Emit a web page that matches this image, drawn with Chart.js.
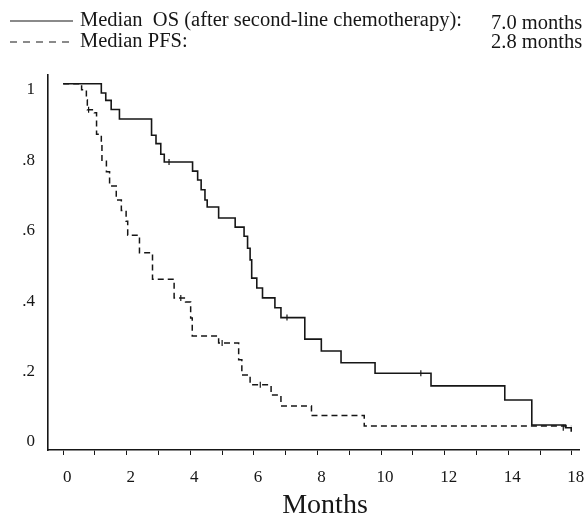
<!DOCTYPE html>
<html>
<head>
<meta charset="utf-8">
<script src="https://cdn.jsdelivr.net/npm/chart.js@4"></script>
<style>
  html, body { margin: 0; padding: 0; background: #fff; }
  #wrap { width: 585px; height: 519px; position: relative; }
</style>
</head>
<body>
<div id="wrap"><canvas id="km"></canvas></div>
<script>
// Kaplan-Meier steps: time (months) at which the curve drops, and the new value
const osTimes  = [0, 1.20, 1.34, 1.51, 1.77, 2.78, 2.92, 3.07, 3.18, 4.07, 4.23, 4.34, 4.46, 4.53, 4.89, 5.41, 5.69, 5.80, 5.88, 5.93, 6.09, 6.27, 6.66, 6.85, 7.60, 8.12, 8.74, 9.81, 11.57, 13.89, 14.74, 15.80, 15.98];
const osValues = [1.0, 0.974, 0.953, 0.927, 0.900, 0.854, 0.830, 0.800, 0.778, 0.752, 0.727, 0.699, 0.670, 0.650, 0.619, 0.593, 0.567, 0.533, 0.500, 0.448, 0.420, 0.392, 0.364, 0.336, 0.275, 0.241, 0.208, 0.178, 0.142, 0.102, 0.031, 0.023, 0.012];

const pfsTimes  = [0, 0.58, 0.73, 0.76, 0.98, 1.05, 1.20, 1.22, 1.36, 1.46, 1.67, 1.83, 1.98, 2.03, 2.35, 2.40, 2.81, 3.49, 3.85, 4.01, 4.06, 4.89, 5.52, 5.62, 5.88, 6.54, 6.85, 7.81, 9.47, 15.98];
const pfsValues = [1.0, 0.983, 0.955, 0.926, 0.918, 0.857, 0.833, 0.780, 0.750, 0.710, 0.670, 0.640, 0.610, 0.570, 0.565, 0.520, 0.445, 0.392, 0.380, 0.335, 0.284, 0.264, 0.216, 0.173, 0.145, 0.116, 0.085, 0.058, 0.028, 0.028];

// censored observations
const osCensorTimes  = [3.33, 7.04, 11.25, 15.73];
const osCensorValues = [0.778, 0.336, 0.178, 0.023];
const pfsCensorTimes  = [0.80, 3.70, 5.00, 6.20];
const pfsCensorValues = [0.926, 0.392, 0.264, 0.145];

const yTicks = [0, 0.2, 0.4, 0.6, 0.8, 1];
const yTickLabels = ['0', '.2', '.4', '.6', '.8', '1'];
const xTicks = [0, 1, 2, 3, 4, 5, 6, 7, 8, 9, 10, 11, 12, 13, 14, 15, 16];
const xLabelAt = [0, 2, 4, 6, 8, 10, 12, 14, 16];
const xLabelText = ['0', '2', '4', '6', '8', '10', '12', '14', '18'];
const xTitle = 'Months';

const legendLabels = ['Median  OS (after second-line chemotherapy):', 'Median PFS:'];
const legendValues = ['7.0 months', '2.8 months'];

const SERIF = "'Liberation Serif', 'DejaVu Serif', serif";
const INK = '#161616';

const pts = (xs, ys) => xs.map((x, i) => ({ x: x, y: ys[i] }));

// legend block at the top and the axis title, drawn straight on the canvas
const textPlugin = {
    id: 'kmText',
    afterDraw(chart) {
        const ctx = chart.ctx;
        ctx.save();
        ctx.strokeStyle = INK;
        ctx.fillStyle = INK;
        ctx.lineWidth = 1.2;
        ctx.beginPath();
        ctx.moveTo(10, 21); ctx.lineTo(73, 21);
        ctx.stroke();
        ctx.setLineDash([7, 6]);
        ctx.beginPath();
        ctx.moveTo(10, 42); ctx.lineTo(73, 42);
        ctx.stroke();
        ctx.setLineDash([]);
        ctx.font = '20.5px ' + SERIF;
        ctx.textBaseline = 'middle';
        ctx.textAlign = 'left';
        ctx.fillText(legendLabels[0], 80, 21);
        ctx.fillText(legendLabels[1], 80, 42);
        ctx.fillText(legendValues[0], 491, 24);
        ctx.fillText(legendValues[1], 491, 43);

        ctx.font = '28px ' + SERIF;
        ctx.textAlign = 'center';
        ctx.fillText(xTitle, 325, 506);
        ctx.restore();
    }
};

new Chart(document.getElementById('km'), {
    type: 'line',
    data: {
        datasets: [
            {
                label: 'OS',
                data: pts(osTimes, osValues),
                stepped: 'before',
                borderColor: INK, borderWidth: 1.6,
                pointRadius: 0, fill: false
            },
            {
                label: 'PFS',
                data: pts(pfsTimes, pfsValues),
                stepped: 'before',
                borderColor: INK, borderWidth: 1.5, borderDash: [6, 4],
                pointRadius: 0, fill: false
            },
            {
                type: 'scatter',
                label: 'OS censored',
                data: pts(osCensorTimes, osCensorValues),
                pointStyle: 'line', rotation: 90, pointRadius: 3,
                borderColor: INK, borderWidth: 1.2
            },
            {
                type: 'scatter',
                label: 'PFS censored',
                data: pts(pfsCensorTimes, pfsCensorValues),
                pointStyle: 'line', rotation: 90, pointRadius: 3,
                borderColor: INK, borderWidth: 1.2
            }
        ]
    },
    options: {
        responsive: true, maintainAspectRatio: false, animation: false,
        layout: { padding: { top: 75, right: 0, bottom: 0, left: 0 } },
        plugins: { legend: { display: false }, tooltip: { enabled: false } },
        scales: {
            x: {
                type: 'linear', min: -0.477, max: 16.25,
                afterBuildTicks: s => { s.ticks = xTicks.map(v => ({ value: v })); },
                afterFit: s => { s.height = 69; s.paddingLeft = 0; s.paddingRight = 0; },
                grid: { drawOnChartArea: false, drawTicks: true, tickLength: 5, color: INK, lineWidth: 1 },
                border: { display: true, color: INK, width: 1.6 },
                ticks: {
                    color: INK, padding: 12, labelOffset: 4, maxRotation: 0, autoSkip: false,
                    font: { family: SERIF, size: 17 },
                    callback: v => { const i = xLabelAt.indexOf(v); return i < 0 ? '' : xLabelText[i]; }
                }
            },
            y: {
                type: 'linear', min: -0.04, max: 1.025,
                afterBuildTicks: s => { s.ticks = yTicks.map(v => ({ value: v })); },
                afterFit: s => { s.width = 48; s.paddingTop = 0; s.paddingBottom = 0; },
                grid: { display: false, drawTicks: false },
                border: { display: true, color: INK, width: 1.6 },
                ticks: {
                    color: INK, padding: 13, labelOffset: 6,
                    font: { family: SERIF, size: 17 },
                    callback: v => { const i = yTicks.indexOf(v); return i < 0 ? '' : yTickLabels[i]; }
                }
            }
        }
    },
    plugins: [textPlugin]
});
</script>
</body>
</html>
